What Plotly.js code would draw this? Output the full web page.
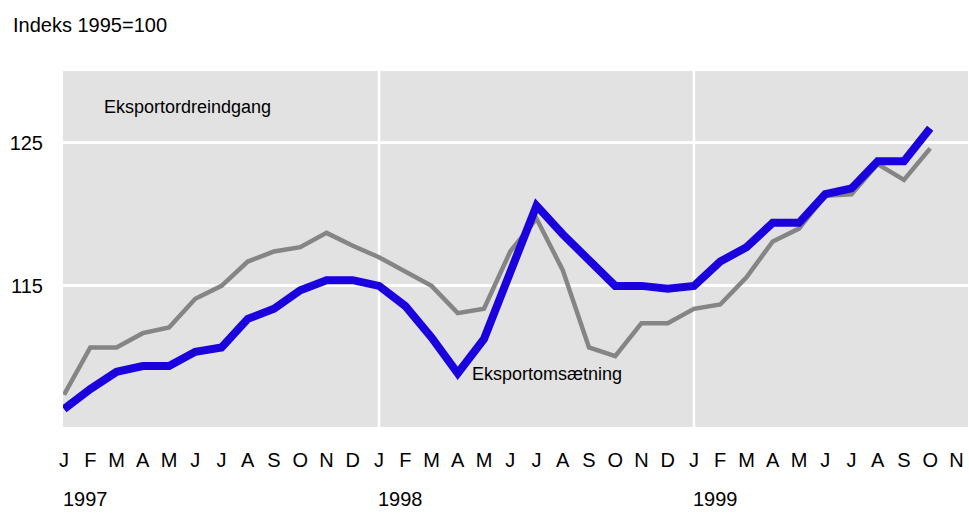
<!DOCTYPE html>
<html>
<head>
<meta charset="utf-8">
<script src="https://cdn.plot.ly/plotly-3.0.1.min.js"></script>
<style>
  html, body { margin: 0; padding: 0; background: #fff; }
  #plot { width: 969px; height: 513px; }
</style>
</head>
<body>
<div id="plot"></div>
<script>
// monthly index 1995=100, Jan 1997 - Oct 1999
const months = ['J','F','M','A','M','J','J','A','S','O','N','D',
                'J','F','M','A','M','J','J','A','S','O','N','D',
                'J','F','M','A','M','J','J','A','S','O','N'];
const years = ['1997', '1998', '1999'];

const ordreindgang = [107.4, 110.7, 110.7, 111.7, 112.1, 114.1, 115.0, 116.7, 117.4, 117.7, 118.7, 117.8,
                      117.0, 116.0, 115.0, 113.1, 113.4, 117.4, 119.7, 116.1, 110.7, 110.1, 112.4, 112.4,
                      113.4, 113.7, 115.6, 118.1, 119.0, 121.3, 121.4, 123.5, 122.4, 124.6];

const omsaetning = [106.4, 107.8, 109.0, 109.4, 109.4, 110.4, 110.7, 112.7, 113.4, 114.7, 115.4, 115.4,
                    115.0, 113.6, 111.4, 108.9, 111.3, 116.0, 120.6, 118.6, 116.7, 115.0, 115.0, 114.8,
                    115.0, 116.7, 117.7, 119.4, 119.4, 121.4, 121.8, 123.7, 123.7, 126.0];

const idx = months.map((m, i) => i);
const yearStarts = years.map((y, i) => i * 12);

const fam = '"Liberation Sans Narrow", "Liberation Sans", Arial, sans-serif';
function f(size) {
  return {family: fam, size: size, color: '#000', stretch: 'condensed'};
}

const traces = [
  {
    x: idx.slice(0, ordreindgang.length),
    y: ordreindgang,
    name: 'Eksportordreindgang',
    mode: 'lines',
    type: 'scatter',
    line: {color: '#858585', width: 4.5}
  },
  {
    x: idx.slice(0, omsaetning.length),
    y: omsaetning,
    name: 'Eksportomsætning',
    mode: 'lines',
    type: 'scatter',
    line: {color: '#1a00dc', width: 8}
  }
];

const annotations = years.map((y, i) => ({
  text: y, x: yearStarts[i], xref: 'x', y: 0, yref: 'paper',
  xanchor: 'left', yanchor: 'bottom', xshift: -3, yshift: -85,
  showarrow: false, font: f(20)
}));
annotations.push(
  {text: 'Eksportordreindgang', x: 1.45, y: 127.5, xref: 'x', yref: 'y',
   xanchor: 'left', yanchor: 'middle', showarrow: false, font: f(18)},
  {text: 'Eksportomsætning', x: 15.47, y: 108.85, xref: 'x', yref: 'y',
   xanchor: 'left', yanchor: 'middle', showarrow: false, font: f(18)}
);

// white year separators
const shapes = yearStarts.slice(1).map(v => ({
  type: 'line', xref: 'x', yref: 'paper', x0: v, x1: v, y0: 0, y1: 1,
  layer: 'below', line: {color: '#ffffff', width: 2.5}
}));

const layout = {
  width: 969,
  height: 513,
  margin: {l: 63, r: 1, t: 71, b: 86},
  paper_bgcolor: '#ffffff',
  plot_bgcolor: '#e2e2e2',
  showlegend: false,
  font: f(20),
  title: {
    text: 'Indeks 1995=100',
    x: 13 / 969, xref: 'container', xanchor: 'left',
    y: 1 - 25 / 513, yref: 'container', yanchor: 'middle',
    font: f(20)
  },
  xaxis: {
    range: [-0.04, 34.44],
    tickmode: 'array',
    tickvals: idx,
    ticktext: months,
    showgrid: false,
    zeroline: false,
    showline: false,
    ticks: '',
    ticklabelstandoff: 19,
    tickfont: f(20)
  },
  yaxis: {
    range: [105.15, 130],
    tickmode: 'array',
    tickvals: [105, 115, 125],
    showgrid: true,
    gridcolor: '#ffffff',
    gridwidth: 3,
    zeroline: false,
    showline: false,
    ticks: '',
    ticklabelstandoff: 19,
    tickfont: f(20)
  },
  shapes: shapes,
  annotations: annotations
};

Plotly.newPlot('plot', traces, layout, {displayModeBar: false, responsive: false});
</script>
</body>
</html>
